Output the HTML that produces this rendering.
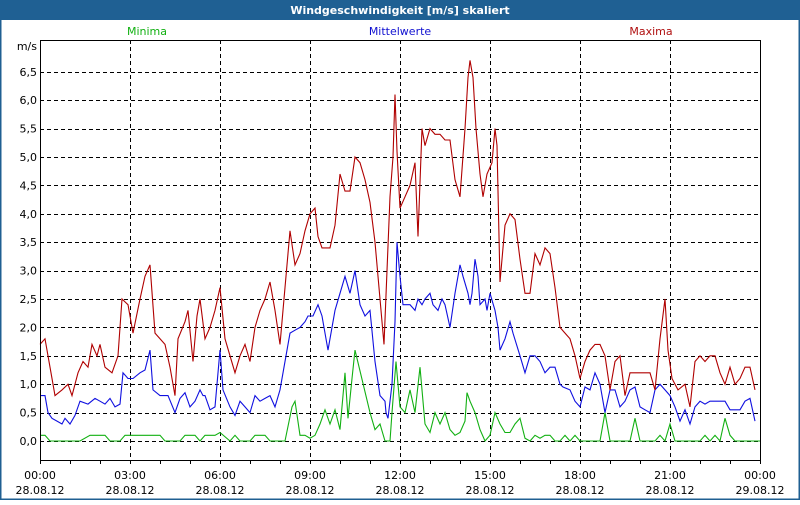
<!DOCTYPE html>
<html><head><meta charset="utf-8"><style>
body{margin:0;background:#fff}
svg text{font-family:"DejaVu Sans","Liberation Sans",sans-serif;font-size:11px}
</style></head><body>
<svg id="chart" width="800" height="500" xmlns="http://www.w3.org/2000/svg">
<rect x="0.5" y="0.5" width="799" height="499" fill="#fff" stroke="#1f5f92" stroke-width="2"/>
<rect x="0" y="0" width="800" height="20" fill="#1f6093"/>
<text x="400" y="14" text-anchor="middle" fill="#fff" font-weight="bold">Windgeschwindigkeit [m/s] skaliert</text>
<text x="147" y="35" text-anchor="middle" fill="#12b012">Minima</text>
<text x="400" y="35" text-anchor="middle" fill="#1010d0">Mittelwerte</text>
<text x="651" y="35" text-anchor="middle" fill="#b01010">Maxima</text>
<text x="37" y="50" text-anchor="end" fill="#000">m/s</text>
<g id="grid"></g><g id="series"></g><g id="axes"></g>
</svg>
<script>
const yTicks=[0,0.5,1,1.5,2,2.5,3,3.5,4,4.5,5,5.5,6,6.5];
const xTickHours=[0,3,6,9,12,15,18,21,24];
const xTimeLabels=["00:00","03:00","06:00","09:00","12:00","15:00","18:00","21:00","00:00"];
const xDateLabels=["28.08.12","28.08.12","28.08.12","28.08.12","28.08.12","28.08.12","28.08.12","28.08.12","29.08.12"];
// [minutes since 00:00, m/s]
const maxPoints=[[0,1.7],[10,1.8],[24,1.1],[30,0.8],[44,0.9],[56,1.0],[64,0.8],[76,1.2],[86,1.4],[96,1.3],[104,1.7],[114,1.5],[120,1.7],[130,1.3],[144,1.2],[156,1.5],[164,2.5],[176,2.4],[186,1.9],[200,2.5],[210,2.9],[220,3.1],[230,1.9],[240,1.8],[250,1.7],[260,1.3],[270,0.8],[276,1.8],[290,2.1],[296,2.3],[306,1.4],[314,2.2],[320,2.5],[330,1.8],[340,2.0],[350,2.3],[360,2.7],[370,1.8],[380,1.5],[390,1.2],[400,1.5],[410,1.7],[420,1.4],[430,2.0],[440,2.3],[450,2.5],[460,2.8],[470,2.3],[480,1.7],[490,2.7],[500,3.7],[510,3.1],[520,3.3],[530,3.7],[540,4.0],[550,4.1],[556,3.6],[564,3.4],[580,3.4],[590,3.8],[600,4.7],[610,4.4],[620,4.4],[630,5.0],[640,4.9],[650,4.6],[660,4.2],[670,3.5],[680,2.5],[688,1.7],[694,3.0],[700,4.3],[706,5.0],[710,6.1],[714,5.1],[720,4.1],[730,4.3],[740,4.5],[750,4.9],[756,3.6],[764,5.5],[770,5.2],[780,5.5],[790,5.4],[800,5.4],[810,5.3],[820,5.3],[830,4.6],[840,4.3],[850,5.5],[856,6.4],[860,6.7],[866,6.4],[872,5.5],[880,4.7],[886,4.3],[894,4.7],[904,4.9],[910,5.5],[914,5.2],[920,2.8],[930,3.8],[940,4.0],[950,3.9],[960,3.2],[970,2.6],[980,2.6],[990,3.3],[1000,3.1],[1010,3.4],[1020,3.3],[1030,2.7],[1040,2.0],[1050,1.9],[1060,1.8],[1070,1.5],[1080,1.1],[1090,1.4],[1100,1.6],[1110,1.7],[1120,1.7],[1130,1.5],[1140,0.9],[1150,1.4],[1160,1.5],[1170,0.8],[1180,1.2],[1190,1.2],[1200,1.2],[1210,1.2],[1220,1.2],[1230,0.9],[1240,1.8],[1250,2.5],[1256,1.6],[1264,1.1],[1276,0.9],[1290,1.0],[1300,0.6],[1310,1.4],[1320,1.5],[1330,1.4],[1340,1.5],[1350,1.5],[1360,1.2],[1370,1.0],[1380,1.3],[1390,1.0],[1400,1.1],[1410,1.3],[1420,1.3],[1430,0.9]];
const meanPoints=[[0,0.8],[10,0.8],[16,0.5],[24,0.4],[34,0.35],[44,0.3],[50,0.4],[60,0.3],[70,0.45],[80,0.7],[96,0.65],[110,0.75],[120,0.7],[130,0.65],[140,0.75],[150,0.6],[160,0.65],[166,1.2],[176,1.1],[186,1.1],[200,1.2],[210,1.25],[220,1.6],[226,0.9],[240,0.8],[256,0.8],[270,0.5],[280,0.75],[290,0.85],[300,0.6],[310,0.7],[320,0.9],[326,0.8],[330,0.8],[340,0.55],[350,0.6],[360,1.6],[366,0.9],[380,0.6],[390,0.45],[400,0.7],[410,0.6],[420,0.5],[430,0.8],[440,0.7],[450,0.75],[460,0.8],[470,0.6],[480,0.9],[490,1.4],[500,1.9],[510,1.95],[520,2.0],[530,2.1],[536,2.2],[546,2.2],[556,2.4],[564,2.2],[572,1.8],[576,1.6],[590,2.3],[600,2.6],[610,2.9],[620,2.6],[630,3.0],[640,2.4],[650,2.2],[660,2.3],[670,1.4],[680,0.8],[690,0.7],[692,0.5],[696,0.4],[704,1.0],[710,2.1],[714,3.5],[720,2.9],[726,2.4],[736,2.4],[740,2.4],[750,2.3],[756,2.5],[764,2.4],[770,2.5],[780,2.6],[786,2.4],[796,2.3],[804,2.5],[810,2.4],[820,2.0],[830,2.6],[840,3.1],[846,2.9],[856,2.6],[860,2.4],[864,2.6],[870,3.2],[876,2.9],[880,2.4],[890,2.5],[894,2.3],[900,2.6],[910,2.3],[916,2.0],[920,1.6],[930,1.8],[940,2.1],[946,1.9],[960,1.5],[970,1.2],[980,1.5],[990,1.5],[1000,1.4],[1010,1.2],[1020,1.3],[1030,1.3],[1040,1.0],[1046,0.95],[1060,0.9],[1070,0.7],[1080,0.6],[1090,0.95],[1100,0.9],[1110,1.2],[1120,1.0],[1130,0.5],[1140,0.9],[1150,0.9],[1160,0.6],[1170,0.7],[1180,0.9],[1190,0.95],[1200,0.6],[1210,0.55],[1220,0.5],[1230,0.9],[1240,1.0],[1250,0.9],[1260,0.8],[1270,0.6],[1280,0.35],[1290,0.55],[1300,0.3],[1310,0.6],[1320,0.7],[1330,0.65],[1340,0.7],[1360,0.7],[1370,0.7],[1380,0.55],[1390,0.55],[1400,0.55],[1410,0.7],[1420,0.75],[1430,0.35]];
const minPoints=[[0,0.1],[10,0.1],[20,0],[80,0],[100,0.1],[130,0.1],[140,0],[160,0],[170,0.1],[220,0.1],[240,0.1],[250,0],[280,0],[290,0.1],[310,0.1],[320,0],[330,0.1],[350,0.1],[360,0.15],[380,0],[390,0.1],[400,0],[420,0],[430,0.1],[450,0.1],[460,0],[490,0],[504,0.6],[510,0.7],[520,0.1],[530,0.1],[540,0.05],[550,0.1],[560,0.3],[570,0.55],[580,0.3],[590,0.55],[600,0.2],[610,1.2],[616,0.4],[624,1.1],[630,1.6],[660,0.5],[670,0.2],[680,0.3],[690,0],[700,0],[704,0.5],[712,1.4],[720,0.6],[730,0.5],[740,0.9],[750,0.5],[760,1.3],[770,0.3],[780,0.15],[790,0.5],[800,0.3],[810,0.5],[820,0.2],[830,0.1],[840,0.15],[850,0.35],[854,0.85],[860,0.7],[870,0.5],[880,0.2],[890,0],[900,0.1],[910,0.5],[920,0.3],[930,0.15],[940,0.15],[950,0.3],[960,0.4],[970,0.05],[980,0],[990,0.1],[1000,0.05],[1010,0.1],[1020,0.1],[1030,0],[1040,0],[1050,0.1],[1060,0],[1070,0.1],[1080,0],[1120,0],[1130,0.5],[1140,0],[1180,0],[1190,0.4],[1200,0],[1230,0],[1240,0.1],[1250,0],[1260,0.3],[1270,0],[1320,0],[1330,0.1],[1340,0],[1350,0.1],[1360,0],[1370,0.4],[1380,0.1],[1390,0],[1440,0]];
const X0=40,X1=760,Y0=441,PER=56.8,TOP=40,BOT=460;
const xs=m=>X0+(m/1440)*(X1-X0);
const ys=v=>Y0-v*PER;
const NS="http://www.w3.org/2000/svg";
function mk(tag,attrs,parent,txt){const e=document.createElementNS(NS,tag);for(const k in attrs)e.setAttribute(k,attrs[k]);if(txt!==undefined)e.textContent=txt;parent.appendChild(e);return e;}
const grid=document.getElementById('grid'),axes=document.getElementById('axes'),ser=document.getElementById('series');
yTicks.forEach(v=>{
 const y=Math.round(ys(v))+0.5;
 const l=mk('line',{x1:X0,x2:X1,y1:y,y2:y,stroke:'#000','stroke-dasharray':'4,3','stroke-width':1},grid);
 
 
 const t=mk('text',{x:37,y:ys(v)+4,'text-anchor':'end',fill:'#000'},axes,v.toFixed(1).replace('.',','));
 
 
});
xTickHours.forEach((h,i)=>{
 const x=Math.round(xs(h*60))+0.5;
 if(h>0&&h<24){const l=mk('line',{x1:x,x2:x,y1:TOP,y2:BOT,stroke:'#000','stroke-dasharray':'4,3'},grid);
 
 }
 const t=mk('text',{x:xs(h*60),y:479,'text-anchor':'middle',fill:'#000'},axes,xTimeLabels[i]);
 
 
 const d=mk('text',{x:xs(h*60),y:494,'text-anchor':'middle',fill:'#000'},axes,xDateLabels[i]);
 
 
});
for(let h=0;h<=24;h++){const x=Math.round(xs(h*60))+0.5;const l=mk('line',{x1:x,x2:x,y1:BOT,y2:BOT+4,stroke:'#000'},axes);
 
 }
const frame=mk('path',{d:`M${X0+0.5},${TOP+0.5}H${X1+0.5}V${BOT+0.5}H${X0+0.5}Z`,fill:'none',stroke:'#000'},axes);


function line(pts,c,n){const p=mk('polyline',{points:pts.map(d=>xs(d[0]).toFixed(1)+','+ys(d[1]).toFixed(1)).join(' '),fill:'none',stroke:c,'stroke-width':1.1},ser);
 
 }
line(minPoints,'#12b012','series-minima');
line(meanPoints,'#1010e0','series-mittelwerte');
line(maxPoints,'#b00000','series-maxima');
</script>
</body></html>
